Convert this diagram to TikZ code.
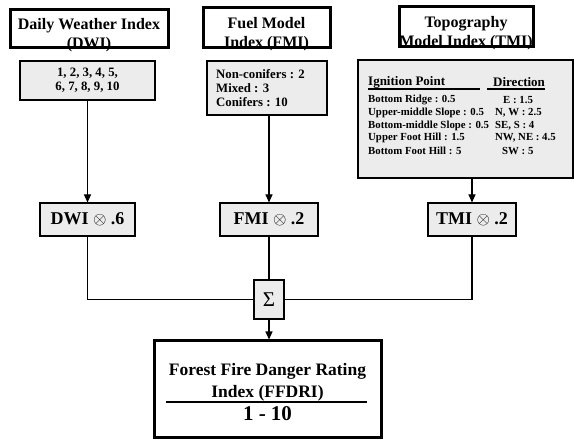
\documentclass[tikz,border=0pt]{standalone}
\usepackage{fontspec}
\setmainfont{Liberation Serif}
\usetikzlibrary{positioning,arrows.meta}
\definecolor{BoxGray}{RGB}{236,236,236}
\tikzset{
  titlebox/.style={draw=black,line width=3pt,inner sep=0pt},
  titletext/.style={font=\fontsize{16}{19}\selectfont\bfseries,align=center,inner sep=0pt},
  valbox/.style={draw=black,fill=BoxGray,line width=1.1pt,inner sep=0pt},
  valtext/.style={font=\fontsize{12.8}{14}\selectfont\bfseries,inner sep=0pt},
  rowtext/.style={font=\fontsize{10.8}{13}\selectfont\bfseries,inner sep=0pt,anchor=west},
  headtext/.style={font=\fontsize{13}{15}\selectfont\bfseries,inner sep=0pt,anchor=west},
  prodbox/.style={draw=black,fill=BoxGray,line width=1.1pt,inner sep=0pt,minimum height=33pt,
    font=\fontsize{18}{20}\selectfont\bfseries},
  sumbox/.style={draw=black,fill=BoxGray,line width=1.1pt,inner sep=0pt,minimum width=30pt,
    minimum height=39pt,font=\fontsize{21}{22}\selectfont},
  resultbox/.style={draw=black,line width=3pt,inner sep=0pt},
  conn/.style={draw=black,line width=1.1pt},
  arr/.style={conn,-{Triangle[length=8pt,width=7pt]}},
}
\begin{document}
\begin{tikzpicture}[x=1pt,y=-1pt]
\useasboundingbox (0,0) rectangle (574,441);
% input titles
\node[titlebox,minimum width=158pt,minimum height=38pt] (dwiT) at (89,29) {};
\node[titletext] (dwiTtxt) at (89,35) {Daily Weather Index\\(DWI)};
\node[titlebox,minimum width=127pt,minimum height=40pt] (fmiT) at (266.5,28) {};
\node[titletext] (fmiTtxt) at (266.5,34) {Fuel Model\\Index (FMI)};
\node[titlebox,minimum width=134pt,minimum height=40pt] (tmiT) at (466,27) {};
\node[titletext] (tmiTtxt) at (466,33) {Topography\\Model Index (TMI)};
% value tables
\node[valbox,minimum width=135pt,minimum height=39pt] (dwiV) at (87.5,80.5) {};
\node[valtext,align=center] (dwiVtxt) at (87.5,80.5) {1, 2, 3, 4, 5,\\6, 7, 8, 9, 10};
\node[valbox,minimum width=120pt,minimum height=54pt] (fmiV) at (267,88) {};
\node[valtext,align=left,anchor=west] (fmiVtxt) at (216,88) {Non-conifers : 2\\Mixed : 3\\Conifers : 10};
\node[valbox,minimum width=215pt,minimum height=118pt] (tmiV) at (465.5,119) {};
\node[headtext] (ignHead) at (368,82) {Ignition Point};
\node[headtext] (dirHead) at (493,82) {Direction};
\draw[line width=2.5pt] (368,89) -- (480,89);
\draw[line width=2.5pt] (487,89) -- (545,89);
\foreach \i/\yy/\ign/\dx/\dir in {1/100/{Bottom Ridge : 0.5}/503/{E : 1.5},
    2/113/{Upper-middle Slope : 0.5}/495/{N, W : 2.5},
    3/126/{Bottom-middle Slope : 0.5}/495/{SE,\ S : 4},
    4/138/{Upper Foot Hill : 1.5}/495/{NW, NE : 4.5},
    5/151/{Bottom Foot Hill : 5}/502/{SW : 5}}{
  \node[rowtext] (ign\i) at (368,\yy) {\ign};
  \node[rowtext] (dir\i) at (\dx,\yy) {\dir};
}
% weighted terms
\node[prodbox,minimum width=95pt] (dwiP) at (87.5,219.5) {DWI $\otimes$ .6};
\node[prodbox,minimum width=98pt] (fmiP) at (269,219.5) {FMI $\otimes$ .2};
\node[prodbox,minimum width=88pt] (tmiP) at (472,219.5) {TMI $\otimes$ .2};
\node[sumbox] (sum) at (269,299.5) {Σ};
% result
\node[resultbox,minimum width=227pt,minimum height=96pt] (ffdri) at (267.5,389) {};
\node[titletext,font=\fontsize{17.5}{22}\selectfont\bfseries] (ffdriName) at (267.5,382) {Forest Fire Danger Rating\\Index (FFDRI)};
\draw[line width=2pt] (166,402) -- (367,402);
\node[titletext,font=\fontsize{21}{22}\selectfont\bfseries] (ffdriRange) at (267.5,414) {1 - 10};
% connectors
\draw[arr] (dwiV.south) -- (dwiP.north);
\draw[arr] (fmiP.north |- fmiV.south) -- (fmiP.north);
\draw[arr] (tmiP.north |- tmiV.south) -- (tmiP.north);
\draw[conn] (dwiP.south) |- (sum.west);
\draw[conn] (fmiP.south) -- (sum.north);
\draw[conn] (tmiP.south) |- (sum.east);
\draw[arr] (sum.south) -- (sum.south |- ffdri.north);
\end{tikzpicture}
\end{document}
